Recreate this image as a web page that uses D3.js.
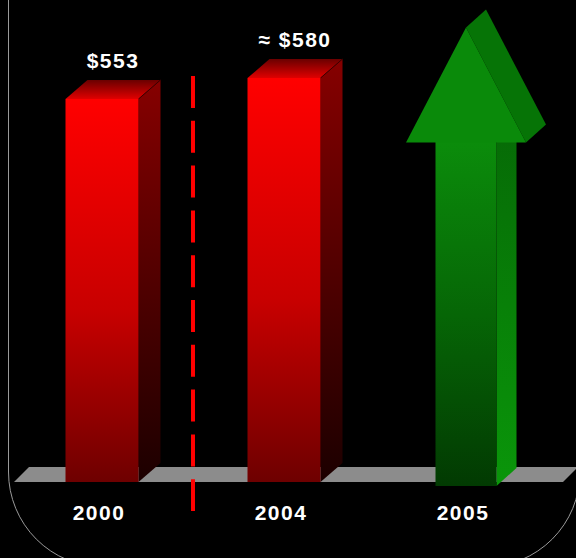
<!DOCTYPE html>
<html>
<head>
<meta charset="utf-8">
<script src="https://cdn.jsdelivr.net/npm/d3@7"></script>
<style>
  html, body { margin: 0; padding: 0; background: #000; }
  svg { display: block; }
</style>
</head>
<body>
<script>
// Categories along the floor
const years = ["2000", "2004", "2005"];
// Spending shown as 3D bars (2000, 2004)
const barYears = ["2000", "2004"];
const spending = [553, 580];
const valueLabels = ["$553", "\u2248 $580"];
// 2005 is shown as a growth arrow; level reached by its tip
const arrowYear = "2005";
const arrowTip = 645;
// Value axis domain (baseline sits on the floor)
const yDomain = [60, 580];

const W = 576, H = 558;
const svg = d3.select("body").append("svg").attr("width", W).attr("height", H);
svg.append("rect").attr("width", W).attr("height", H).attr("fill", "#000");

const x = d3.scalePoint().domain(years).range([102, 466]);
const y = d3.scaleLinear().domain(yDomain).range([482, 78]);
const base = y(yDomain[0]);

const defs = svg.append("defs");
function vGrad(id, stops) {
  const g = defs.append("linearGradient").attr("id", id)
    .attr("x1", 0).attr("y1", 0).attr("x2", 0).attr("y2", 1);
  stops.forEach(([o, c]) => g.append("stop").attr("offset", o).attr("stop-color", c));
}
vGrad("barFront", [[0, "#ff0000"], [0.55, "#c80000"], [1, "#6e0000"]]);
vGrad("barSide", [[0, "#860000"], [1, "#1c0000"]]);
vGrad("barTop", [[0, "#6a0000"], [1, "#e00000"]]);
vGrad("arrowFront", [[0, "#0b8c0b"], [0.5, "#066606"], [1, "#023a02"]]);
vGrad("arrowSide", [[0, "#066a06"], [1, "#0a960a"]]);

const pts = a => a.map(p => p.join(",")).join(" ");

// Rounded frame
svg.append("path")
  .attr("d", "M8.5,-5 V472 A95,95 0 0 0 103.5,567 H485 A95,95 0 0 0 580,472 V-5")
  .attr("fill", "none").attr("stroke", "#9a9a9a").attr("stroke-width", 1);

// Floor
svg.append("polygon")
  .attr("points", pts([[14, base], [29, base - 15], [578, base - 15], [563, base]]))
  .attr("fill", "#8c8c8c");

// 3D bars
const bw = 73, dx = 22, dy = 19;
const bars = svg.append("g").selectAll("g").data(barYears.map((yr, i) => ({ yr, v: spending[i], lab: valueLabels[i] })))
  .join("g");
bars.each(function (d) {
  const g = d3.select(this);
  const x0 = x(d.yr) - bw / 2, x1 = x0 + bw, top = y(d.v);
  g.append("polygon")
    .attr("points", pts([[x1, top], [x1 + dx, top - dy], [x1 + dx, base - dy], [x1, base]]))
    .attr("fill", "url(#barSide)");
  g.append("polygon")
    .attr("points", pts([[x0, top], [x0 + dx, top - dy], [x1 + dx, top - dy], [x1, top]]))
    .attr("fill", "url(#barTop)");
  g.append("line").attr("x1", x1).attr("y1", top).attr("x2", x1 + dx).attr("y2", top - dy)
    .attr("stroke", "#3a0000").attr("stroke-width", 1);
  g.append("rect").attr("x", x0).attr("y", top).attr("width", bw).attr("height", base - top)
    .attr("fill", "url(#barFront)");
  g.append("text")
    .attr("x", x(d.yr) + dx / 2).attr("y", top - dy - 12)
    .attr("text-anchor", "middle")
    .attr("fill", "#fff")
    .attr("font-family", "'Liberation Sans', Arial, sans-serif")
    .attr("font-weight", "bold").attr("font-size", 21)
    .attr("letter-spacing", 1.5)
    .text(d.lab);
});

// Growth arrow
{
  const cx = x(arrowYear), tip = y(arrowTip), headBase = tip + 115, foot = base + 4;
  const sw = 30.5, hw = 60, adx = 20, ady = 18;
  const g = svg.append("g");
  g.append("polygon")
    .attr("points", pts([[cx + sw, headBase], [cx + sw + adx, headBase - ady], [cx + sw + adx, foot - ady], [cx + sw, foot]]))
    .attr("fill", "url(#arrowSide)");
  g.append("rect").attr("x", cx - sw).attr("y", headBase - 1).attr("width", sw * 2).attr("height", foot - headBase + 1)
    .attr("fill", "url(#arrowFront)");
  g.append("polygon")
    .attr("points", pts([[cx, tip], [cx + adx, tip - ady], [cx + hw + adx, headBase - ady], [cx + hw, headBase]]))
    .attr("fill", "#067406");
  g.append("polygon")
    .attr("points", pts([[cx - hw, headBase], [cx, tip], [cx + hw, headBase]]))
    .attr("fill", "#0a8a0a");
}

// Divider between 2000 and 2004
svg.append("line")
  .attr("x1", (x("2000") + x("2004")) / 2).attr("x2", (x("2000") + x("2004")) / 2)
  .attr("y1", 76).attr("y2", 511)
  .attr("stroke", "#ff0000").attr("stroke-width", 4)
  .attr("stroke-dasharray", "32,12.8");

// Year labels
svg.append("g").selectAll("text").data(years).join("text")
  .attr("x", d => x(d) - 3).attr("y", 520)
  .attr("text-anchor", "middle")
  .attr("fill", "#fff")
  .attr("font-family", "'Liberation Sans', Arial, sans-serif")
  .attr("font-weight", "bold").attr("font-size", 21)
  .attr("letter-spacing", 1.5)
  .text(d => d);
</script>
</body>
</html>
